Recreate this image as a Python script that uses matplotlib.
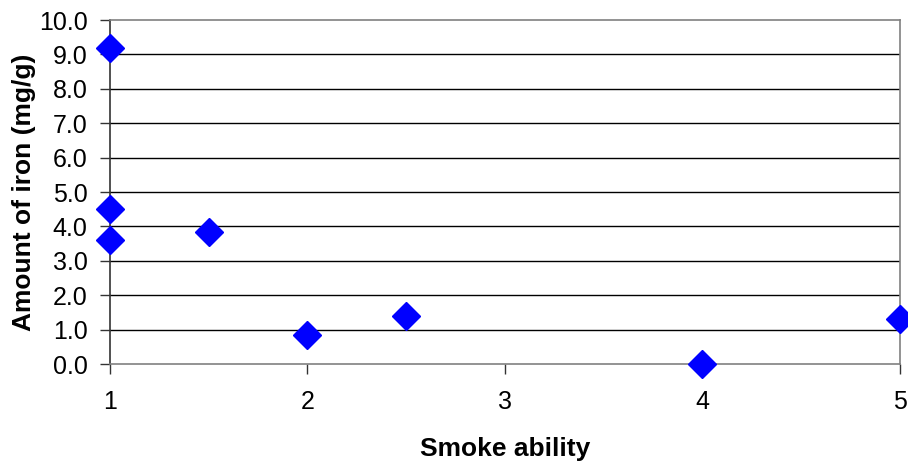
import matplotlib
matplotlib.use("Agg")
import matplotlib.pyplot as plt

plt.rcParams['font.family'] = ['Liberation Sans', 'DejaVu Sans']

smoke_ability = [1, 1, 1, 1.5, 2, 2.5, 4, 5]
iron_mg_per_g = [9.2, 4.5, 3.6, 3.85, 0.85, 1.4, 0.0, 1.3]
y_ticks = [0, 1, 2, 3, 4, 5, 6, 7, 8, 9, 10]
x_ticks = [1, 2, 3, 4, 5]

fig = plt.figure(figsize=(9.08, 4.61), dpi=100)
ax = fig.add_axes([0.1211, 0.2104, 0.8701, 0.7462])

ax.set_xlim(1, 5)
ax.set_ylim(0, 10)
ax.set_yticks(y_ticks)
ax.set_yticklabels([f"{v:.1f}" for v in y_ticks])
ax.set_xticks(x_ticks)
ax.set_xticklabels([str(v) for v in x_ticks])

for y in y_ticks[1:-1]:
    ax.axhline(y, color='black', lw=1.0, zorder=1)

for side in ['top', 'right', 'bottom']:
    ax.spines[side].set_color('#808080')
    ax.spines[side].set_linewidth(1.2)
ax.spines['left'].set_color('#333333')
ax.spines['left'].set_linewidth(1.2)

ax.tick_params(axis='both', direction='out', length=7, width=1, color='#333333',
               labelsize=18, pad=9)
ax.tick_params(axis='x', pad=12)

ax.plot(smoke_ability, iron_mg_per_g, linestyle='none', marker='D', markersize=14,
        color='#0000FF', clip_on=False, zorder=3)

ax.set_xlabel('Smoke ability', fontsize=19, fontweight='bold', labelpad=16)
ax.set_ylabel('Amount of iron (mg/g)', fontsize=19, fontweight='bold', labelpad=2)

fig.savefig('out.png', dpi=100)
